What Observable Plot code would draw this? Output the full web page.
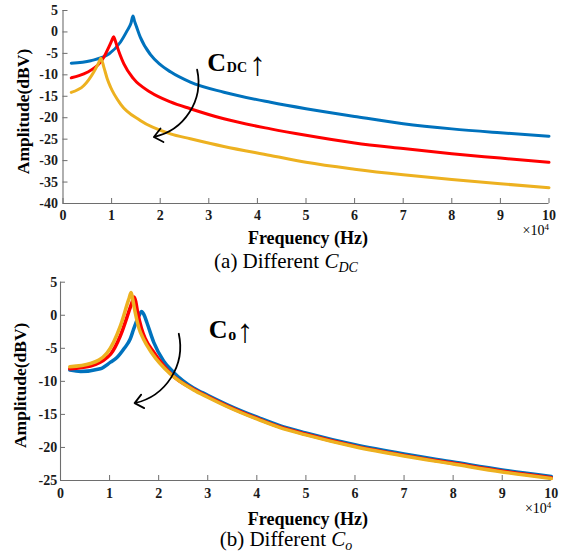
<!DOCTYPE html>
<html>
<head>
<meta charset="utf-8">
<script src="https://cdn.jsdelivr.net/npm/d3@7"></script>
<script src="https://cdn.jsdelivr.net/npm/@observablehq/plot@0.6"></script>
<style>
  html, body { margin: 0; padding: 0; background: #fff; }
  #fig { position: relative; width: 572px; height: 553px; overflow: hidden; font-family: 'Liberation Serif', 'Times New Roman', serif; }
  #fig svg { position: absolute; left: 0; }
  .cap { position: absolute; left: 0; width: 572px; text-align: center; font-size: 21px; line-height: 21px; color: #000; white-space: nowrap; }
  .cap i.sub { font-size: 14px; position: relative; top: 4px; }
</style>
</head>
<body>
<div id="fig"></div>
<script>
// ---------- Data (frequency in ×10^4 Hz, amplitude in dBV) ----------
const xTicks = [0, 1, 2, 3, 4, 5, 6, 7, 8, 9, 10];
const yTicksA = [5, 0, -5, -10, -15, -20, -25, -30, -35, -40];
const yTicksB = [5, 0, -5, -10, -15, -20, -25];

// Panel (a): different C_DC
const aBlueF = [0.17, 0.57, 0.95, 1.18, 1.32, 1.40, 1.44, 1.475, 1.51, 1.59, 1.80, 1.99, 2.21, 2.62, 3.31, 4.27, 5, 6, 7, 8, 9, 10];
const aBlueA = [-7.3, -6.7, -5.1, -2.4, 0.3, 2.1, 3.7, 2.4, 1.3, -1.2, -5.3, -7.5, -9.3, -11.7, -14.05, -16.4, -17.9, -19.7, -21.4, -22.6, -23.5, -24.3];
const aRedF = [0.17, 0.33, 0.50, 0.77, 0.84, 0.94, 1.00, 1.04, 1.08, 1.12, 1.18, 1.25, 1.45, 1.80, 2.21, 2.62, 3.31, 4.27, 5, 6, 7, 8, 9, 10];
const aRedA = [-10.7, -10.2, -9.4, -7.05, -5.9, -3.6, -2.1, -1.1, -2.2, -3.6, -5.5, -7.4, -10.9, -14.05, -16.3, -17.9, -20.25, -22.6, -24.1, -25.9, -27.2, -28.4, -29.4, -30.4];
const aYellowF = [0.17, 0.43, 0.63, 0.74, 0.78, 0.84, 0.91, 0.98, 1.18, 1.59, 2.21, 2.62, 3.31, 4.27, 5, 6, 7, 8, 9, 10];
const aYellowA = [-14.1, -12.5, -9.4, -7.05, -6.15, -8.2, -10.9, -12.9, -16.75, -20.65, -23.75, -24.9, -26.7, -28.8, -30.4, -32.0, -33.3, -34.4, -35.4, -36.3];

// Panel (b): different Co
const bBlueF = [0.19, 0.41, 0.81, 1.02, 1.15, 1.30, 1.42, 1.49, 1.56, 1.61, 1.65, 1.70, 1.76, 1.90, 2.10, 2.30, 2.71, 3.0, 3.39, 4.07, 4.47, 5, 6, 7, 8, 9, 10];
const bBlueA = [-8.3, -8.5, -8.1, -7.1, -6.4, -5.0, -3.6, -2.1, -0.7, 0.1, 0.55, 0.1, -1.1, -4.1, -6.9, -8.6, -11.0, -12.1, -13.5, -15.6, -16.7, -17.8, -19.6, -21.0, -22.2, -23.4, -24.4];
const bRedF = [0.19, 0.61, 0.95, 1.02, 1.22, 1.42, 1.47, 1.50, 1.535, 1.57, 1.65, 1.73, 1.90, 2.24, 2.71, 3.0, 3.39, 4.07, 4.47, 5, 6, 7, 8, 9, 10];
const bRedA = [-8.1, -7.7, -6.4, -5.9, -3.1, 1.15, 2.2, 2.75, 2.0, 0.5, -2.0, -3.6, -5.6, -8.8, -11.2, -12.3, -13.7, -15.8, -16.9, -18.0, -19.8, -21.2, -22.4, -23.6, -24.6];
const bYellowF = [0.19, 0.61, 0.95, 1.22, 1.39, 1.44, 1.475, 1.52, 1.60, 1.69, 1.86, 2.24, 2.71, 3.0, 3.39, 4.07, 4.47, 5, 6, 7, 8, 9, 10];
const bYellowA = [-7.8, -7.3, -5.7, -1.6, 2.4, 3.45, 2.3, 0.5, -2.0, -3.6, -5.7, -8.9, -11.3, -12.4, -13.8, -15.9, -17.0, -18.1, -19.9, -21.3, -22.5, -23.7, -24.7];

// Annotations (data coordinates)
const arrowA = [{x1: 2.76, y1: -8.8, x2: 1.87, y2: -24.5}];
const arrowB = [{x1: 2.41, y1: -2.8, x2: 1.51, y2: -13.3}];
const labelA = [{x: 2.97, y: -9.15}];
const labelB = [{x: 3.02, y: -3.45}];

const COLORS = {blue: "#0072BD", red: "#FF0000", yellow: "#EDB120"};
const FONT = "Liberation Serif";

const pts = (F, A) => F.map((f, i) => ({f, a: A[i]}));

function panel({series, yDomain, yTicks, arrow, label, sub, margins, height, lw, yPad, xPad, ydy}) {
  const [mt, mr, mb, ml] = margins;
  const T = {fontFamily: FONT, fill: "#000"};
  return Plot.plot({
    width: 572,
    height,
    marginTop: mt, marginRight: mr, marginBottom: mb, marginLeft: ml,
    style: {fontFamily: FONT, background: "transparent", overflow: "visible"},
    x: {domain: [0, 10]},
    y: {domain: yDomain},
    marks: [
      // axis lines (box off)
      Plot.ruleX([0], {stroke: "#6e6e6e", strokeWidth: 1.1}),
      Plot.ruleY([yDomain[0]], {stroke: "#6e6e6e", strokeWidth: 1.1}),
      Plot.axisY(yTicks, {tickSize: -5, tickPadding: yPad, tickFormat: d => String(d), fontFamily: FONT, fontSize: 14, fontWeight: "bold", fontVariant: "normal", fill: "#1a1a1a", stroke: "#6e6e6e", label: null}),
      Plot.axisX(xTicks, {tickSize: -5, tickPadding: xPad, tickFormat: d => String(d), fontFamily: FONT, fontSize: 14, fontWeight: "bold", fontVariant: "normal", fill: "#1a1a1a", stroke: "#6e6e6e", label: null}),
      ...series.map(([F, A, c]) => Plot.line(pts(F, A), {x: "f", y: "a", stroke: COLORS[c], strokeWidth: lw, curve: "monotone-x"})),
      Plot.arrow(arrow, {x1: "x1", y1: "y1", x2: "x2", y2: "y2", bend: 45, stroke: "#000", strokeWidth: 1.8, headLength: 9, headAngle: 80}),
      Plot.text(label, {...T, x: "x", y: "y", text: () => "C", textAnchor: "start", lineAnchor: "bottom", fontSize: 26, fontWeight: "bold"}),
      Plot.text(label, {...T, x: "x", y: "y", text: () => sub.t, textAnchor: "start", lineAnchor: "bottom", fontSize: sub.fs, fontWeight: "bold", dx: 19.5, dy: sub.dy}),
      Plot.text(label, {...T, x: "x", y: "y", text: () => "\u2191", textAnchor: "start", lineAnchor: "bottom", fontSize: 33, dx: sub.arrowDx, dy: 3.5}),
      // axis titles
      Plot.text(["Frequency (Hz)"], {...T, frameAnchor: "bottom", textAnchor: "middle", lineAnchor: "bottom", dy: ydy.freq, dx: 2, fontSize: 18, fontWeight: "bold"}),
      Plot.text(["Amplitude(dBV)"], {...T, frameAnchor: "left", rotate: -90, textAnchor: "middle", dx: ydy.ampDx, dy: ydy.ampDy, fontSize: 17.5, fontWeight: "bold"}),
      Plot.text(["\u00d710"], {...T, frameAnchor: "bottom-right", textAnchor: "end", lineAnchor: "bottom", dx: -4.5, dy: ydy.exp, fontSize: 14}),
      Plot.text(["4"], {...T, frameAnchor: "bottom-right", textAnchor: "start", lineAnchor: "bottom", dx: -4.5, dy: ydy.exp - 5, fontSize: 9})
    ]
  });
}

const fig = document.getElementById("fig");

const svgA = panel({
  series: [[aBlueF, aBlueA, "blue"], [aRedF, aRedA, "red"], [aYellowF, aYellowA, "yellow"]],
  yDomain: [-40, 5], yTicks: yTicksA, arrow: arrowA, label: labelA,
  sub: {t: "DC", fs: 14, dy: 1, arrowDx: 42},
  margins: [10, 23.5, 67, 62.5], height: 270, lw: 3, yPad: 10, xPad: 11.4,
  ydy: {freq: 40.3, ampDx: -40, ampDy: 4.5, exp: 31.5}
});
svgA.style.top = "0px";
fig.appendChild(svgA);

const svgB = panel({
  series: [[bBlueF, bBlueA, "blue"], [bRedF, bRedA, "red"], [bYellowF, bYellowA, "yellow"]],
  yDomain: [-25, 5], yTicks: yTicksB, arrow: arrowB, label: labelB,
  sub: {t: "o", fs: 16, dy: 2, arrowDx: 28},
  margins: [11.7, 21.2, 73, 60], height: 283, lw: 3.5, yPad: 8.3, xPad: 12.4,
  ydy: {freq: 44, ampDx: -40, ampDy: 4, exp: 32}
});
svgB.style.top = "270px";
fig.appendChild(svgB);

const capA = document.createElement("div");
capA.className = "cap";
capA.style.top = "250.7px";
capA.innerHTML = "(a) Different <i>C</i><i class=\"sub\">DC</i>";
fig.appendChild(capA);

const capB = document.createElement("div");
capB.className = "cap";
capB.style.top = "529px";
capB.innerHTML = "(b) Different <i>C</i><i class=\"sub\">o</i>";
fig.appendChild(capB);
</script>
</body>
</html>
